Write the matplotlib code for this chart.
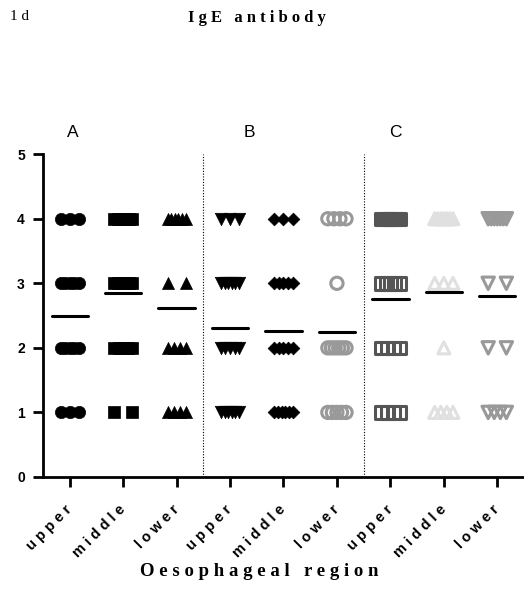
import numpy as np
import matplotlib
matplotlib.use("Agg")
import matplotlib.pyplot as plt

# score levels on the y axis
levels = [1, 2, 3, 4]

# number of patients at each score (levels 1..4), one list per group
a_upper = [3, 5, 5, 3]
a_middle = [2, 5, 6, 6]
a_lower = [4, 4, 2, 6]
b_upper = [6, 5, 6, 3]
b_middle = [6, 5, 5, 3]
b_lower = [5, 6, 1, 4]
c_upper = [4, 4, 5, 7]
c_middle = [4, 1, 3, 7]
c_lower = [4, 2, 2, 7]

groups = [a_upper, a_middle, a_lower, b_upper, b_middle, b_lower,
          c_upper, c_middle, c_lower]
tick_labels = ["upper", "middle", "lower"] * 3
panel_labels = ["A", "B", "C"]

# marker, face, edge for each column (Prism style)
styles = [
    ("o", "black", "black"),
    ("s", "black", "black"),
    ("^", "black", "black"),
    ("v", "black", "black"),
    ("D", "black", "black"),
    ("o", "none", "#999999"),
    ("s", "none", "#555555"),
    ("^", "none", "#e0e0e0"),
    ("v", "none", "#999999"),
]
sizes = {"o": 78, "s": 80, "^": 75, "v": 80, "D": 42}


def spread(n):
    # horizontal scatter of points sharing the same score
    if n == 1:
        return np.array([0.0])
    w = min((n - 1) * 0.34, 0.34)
    return np.linspace(-w / 2, w / 2, n)


fig = plt.figure(figsize=(5.24, 6.16), dpi=100)
ax = fig.add_axes([0.082, 0.2257, 0.918, 0.524])

for i, counts in enumerate(groups):
    m, fc, ec = styles[i]
    xs, ys = [], []
    for lev, n in zip(levels, counts):
        xs.extend(i + spread(n))
        ys.extend([lev] * n)
    lw = 2.2 if fc == "none" else 0.5
    ax.scatter(xs, ys, marker=m, s=sizes[m], facecolors=fc, edgecolors=ec,
               linewidths=lw, zorder=3)
    mean = np.sum(np.array(levels) * np.array(counts)) / np.sum(counts)
    ax.plot([i - 0.34, i + 0.34], [mean, mean], color="black", lw=2.2,
            solid_capstyle="round", zorder=4)

ax.vlines([2.5, 5.5], 0, 5, colors="black", linestyles=(0, (1, 1.5)), lw=0.8)

for lab, x in zip(panel_labels, [0.06, 3.37, 6.1]):
    ax.text(x, 5.33, lab, ha="center", va="center", fontsize=12.5,
            family="Liberation Sans")

ax.set_xlim(-0.5, 8.5)
ax.set_ylim(0, 5)
ax.set_yticks([0, 1, 2, 3, 4, 5])
ax.set_xticks(range(9))
ax.set_xticklabels([" ".join(t) for t in tick_labels], rotation=45,
                   ha="right", va="center", rotation_mode="anchor",
                   fontsize=10.5, fontweight="bold", family="Liberation Sans")
for t in ax.get_yticklabels():
    t.set_fontweight("bold")
    t.set_fontsize(10)
    t.set_family("Liberation Sans")
ax.tick_params(axis="both", length=7, width=2, direction="out")
ax.tick_params(axis="y", pad=6)
ax.tick_params(axis="x", pad=15)
for s in ["top", "right"]:
    ax.spines[s].set_visible(False)
for s in ["left", "bottom"]:
    ax.spines[s].set_linewidth(2)

fig.text(10 / 524, 1 - 17 / 616, "1 d", ha="left", va="center",
         fontsize=11, family="Liberation Serif")
fig.text(257 / 524, 1 - 18 / 616, "I g E   a n t i b o d y", ha="center",
         va="center", fontsize=12, fontweight="bold", family="Liberation Serif")
fig.text(259 / 524, 1 - 571 / 616, "O e s o p h a g e a l   r e g i o n",
         ha="center", va="center", fontsize=13.5, fontweight="bold",
         family="Liberation Serif")

fig.savefig("out.png", dpi=100)
